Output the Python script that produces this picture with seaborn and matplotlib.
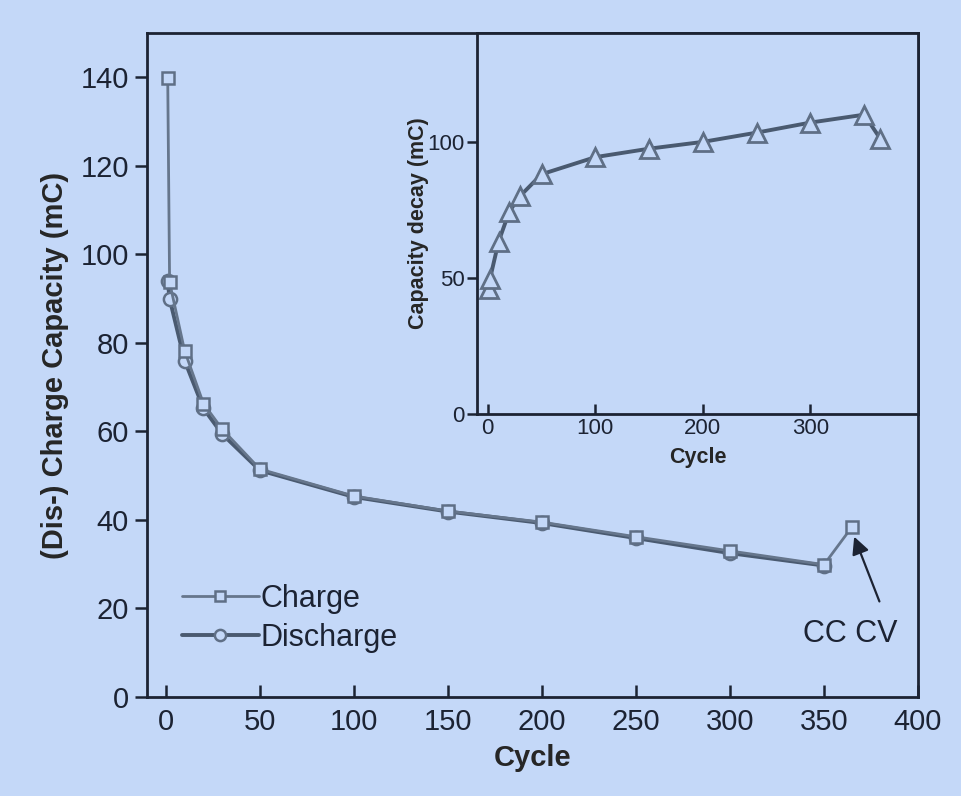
import matplotlib
matplotlib.use("Agg")
import matplotlib.pyplot as plt
import seaborn as sns
import pandas as pd

# main panel data
charge_cycle = [1, 2, 10, 20, 30, 50, 100, 150, 200, 250, 300, 350, 365]
charge_cap = [139.8, 93.7, 78.2, 66.3, 60.5, 51.5, 45.4, 42.0, 39.5, 36.2, 33.0, 29.9, 38.5]
discharge_cycle = [1, 2, 10, 20, 30, 50, 100, 150, 200, 250, 300, 350]
discharge_cap = [93.9, 90.0, 76.0, 65.2, 59.4, 51.2, 45.2, 41.9, 39.3, 35.9, 32.5, 29.7]

# inset data
decay_cycle = [1, 2, 10, 20, 30, 50, 100, 150, 200, 250, 300, 350, 365]
decay_cap = [46.0, 49.6, 63.3, 74.4, 80.1, 88.1, 94.4, 97.5, 100.0, 103.4, 107.1, 110.0, 101.1]

bg = '#c4d8f8'
ink = '#1c2333'
line_col = '#4a5a70'
mark_col = '#5f6f86'

sns.set_style("ticks", {"axes.facecolor": bg, "figure.facecolor": bg,
                        "axes.edgecolor": ink, "text.color": ink,
                        "xtick.color": ink, "ytick.color": ink})
plt.rcParams['font.family'] = ['Liberation Sans', 'DejaVu Sans']

df_charge = pd.DataFrame({'Cycle': charge_cycle, 'Cap': charge_cap})
df_dis = pd.DataFrame({'Cycle': discharge_cycle, 'Cap': discharge_cap})
df_decay = pd.DataFrame({'Cycle': decay_cycle, 'Cap': decay_cap})

fig = plt.figure(figsize=(9.61, 7.96), dpi=100)
ax = fig.add_axes([0.153, 0.1244, 0.8023, 0.834])

sns.lineplot(data=df_dis, x='Cycle', y='Cap', ax=ax, color=line_col, lw=2.8,
             marker='o', markersize=9.5, markerfacecolor=bg, markeredgecolor=mark_col,
             markeredgewidth=1.8, label='Discharge')
sns.lineplot(data=df_charge, x='Cycle', y='Cap', ax=ax, color='#66768c', lw=2.0,
             marker='s', markersize=8.5, markerfacecolor=bg, markeredgecolor=mark_col,
             markeredgewidth=1.8, label='Charge')

ax.set_xlim(-10, 400)
ax.set_ylim(0, 150)
ax.set_xticks(range(0, 401, 50))
ax.set_yticks(range(0, 141, 20))
ax.tick_params(axis='x', direction='in', length=9, width=1.8, labelsize=21, pad=8)
ax.tick_params(axis='y', direction='out', length=9, width=1.8, labelsize=21, pad=4)
for s in ax.spines.values():
    s.set_linewidth(2)
ax.set_xlabel('Cycle', fontsize=21, fontweight='bold', labelpad=6)
ax.set_ylabel('(Dis-) Charge Capacity (mC)', fontsize=21, fontweight='bold', labelpad=8)

h, l = ax.get_legend_handles_labels()
ax.legend(h[::-1], l[::-1], loc='lower left', bbox_to_anchor=(0.01, 0.025), frameon=False,
          fontsize=22, handlelength=2.5, handletextpad=0.05, labelspacing=0.3,
          markerscale=0.85)

ax.annotate('', xy=(365.5, 36.8), xytext=(380, 21),
            arrowprops=dict(arrowstyle='-|>', lw=1.6, color=ink, mutation_scale=26))
ax.text(364, 14.2, 'CC CV', ha='center', va='center', fontsize=22, color=ink)

# inset
ins = fig.add_axes([0.4964, 0.4799, 0.4589, 0.4786])
sns.lineplot(data=df_decay, x='Cycle', y='Cap', ax=ins, color=line_col, lw=2.8,
             marker='^', markersize=12.5, markerfacecolor=bg, markeredgecolor=mark_col,
             markeredgewidth=2.0)
ins.set_xlim(-10, 400)
ins.set_ylim(0, 140)
ins.set_xticks([0, 100, 200, 300])
ins.set_yticks([0, 50, 100])
ins.tick_params(axis='x', direction='in', length=7, width=1.8, labelsize=16, pad=3)
ins.tick_params(axis='y', direction='out', length=7, width=1.8, labelsize=16, pad=2)
for s in ins.spines.values():
    s.set_linewidth(2)
ins.set_xlabel('Cycle', fontsize=15.5, fontweight='bold', labelpad=6)
ins.set_ylabel('Capacity decay (mC)', fontsize=15.5, fontweight='bold', labelpad=-1)

fig.savefig('out.png', dpi=100, facecolor=bg)
